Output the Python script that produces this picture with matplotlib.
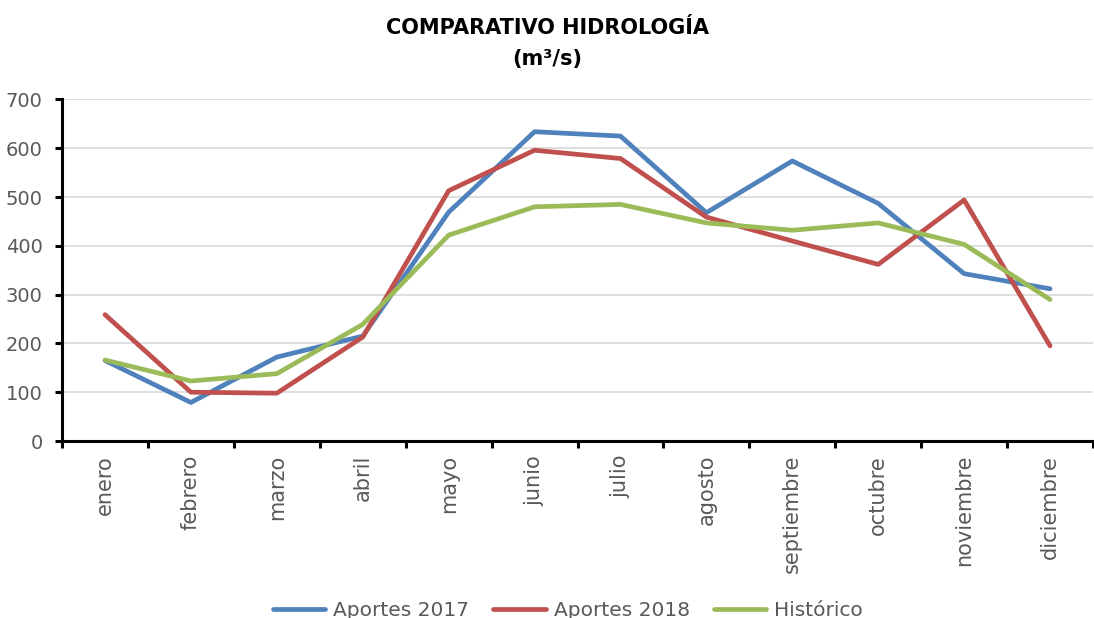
import numpy as np
import matplotlib
matplotlib.use("Agg")
import matplotlib.pyplot as plt


# ------------------------------------------------------------
# Data
# ------------------------------------------------------------

months = [
    "enero", "febrero", "marzo", "abril", "mayo", "junio",
    "julio", "agosto", "septiembre", "octubre", "noviembre", "diciembre",
]

aportes_2017 = [165, 79, 172, 215, 469, 634, 625, 468, 574, 487, 343, 312]
aportes_2018 = [259, 100, 98, 213, 513, 596, 579, 459, 410, 362, 494, 195]
historico = [166, 123, 138, 239, 422, 480, 485, 447, 432, 447, 403, 290]

y_ticks = [0, 100, 200, 300, 400, 500, 600, 700]

# ------------------------------------------------------------
# Styling
# ------------------------------------------------------------

plt.rcParams["font.family"] = ["DejaVu Sans"]

COLOR_2017 = "#4F81BD"
COLOR_2018 = "#C0504D"
COLOR_HIST = "#9BBB59"
TEXT_GRAY = "#595959"

fig = plt.figure(figsize=(10.94, 6.18), dpi=100)
ax = fig.add_axes([0.0567, 0.2864, 0.9424, 0.5526])

x = np.arange(len(months))

line_kw = dict(linewidth=3.4, solid_joinstyle="round", solid_capstyle="round")
ax.plot(x, aportes_2017, color=COLOR_2017, label="Aportes 2017", **line_kw)
ax.plot(x, aportes_2018, color=COLOR_2018, label="Aportes 2018", **line_kw)
ax.plot(x, historico, color=COLOR_HIST, label="Histórico", **line_kw)

# axes limits and grid
ax.set_xlim(-0.5, len(months) - 0.5)
ax.set_ylim(0, 700)
ax.set_yticks(y_ticks)
ax.yaxis.grid(True, color="#d9d9d9", linewidth=1.2)
ax.set_axisbelow(True)

# category labels at centers, tick marks at boundaries
ax.set_xticks(x)
ax.set_xticklabels(months, rotation=90, fontsize=15, color=TEXT_GRAY)
ax.set_xticks(np.arange(-0.5, len(months)), minor=True)
ax.tick_params(axis="x", which="major", length=0, pad=10)
ax.tick_params(axis="x", which="minor", length=5, width=2.2, color="black")
ax.tick_params(axis="y", length=5, width=2.2, color="black",
               labelsize=14, labelcolor=TEXT_GRAY, pad=9)

for side in ["top", "right"]:
    ax.spines[side].set_visible(False)
for side in ["left", "bottom"]:
    ax.spines[side].set_linewidth(2.2)
    ax.spines[side].set_color("black")

# title
fig.text(0.5, 0.955, "COMPARATIVO HIDROLOGÍA", ha="center", va="center",
         fontsize=15, fontweight="bold", color="black")
fig.text(0.5, 0.905, "(m³/s)", ha="center", va="center",
         fontsize=15, fontweight="bold", color="black")

# legend at the bottom (partly cut, as in the reference)
fig.legend(
    loc="center",
    bbox_to_anchor=(0.519, 0.012),
    ncol=3,
    frameon=False,
    fontsize=14.5,
    labelcolor=TEXT_GRAY,
    handlelength=2.6,
    handletextpad=0.4,
    columnspacing=1.2,
)

fig.savefig("out.png", dpi=100)
